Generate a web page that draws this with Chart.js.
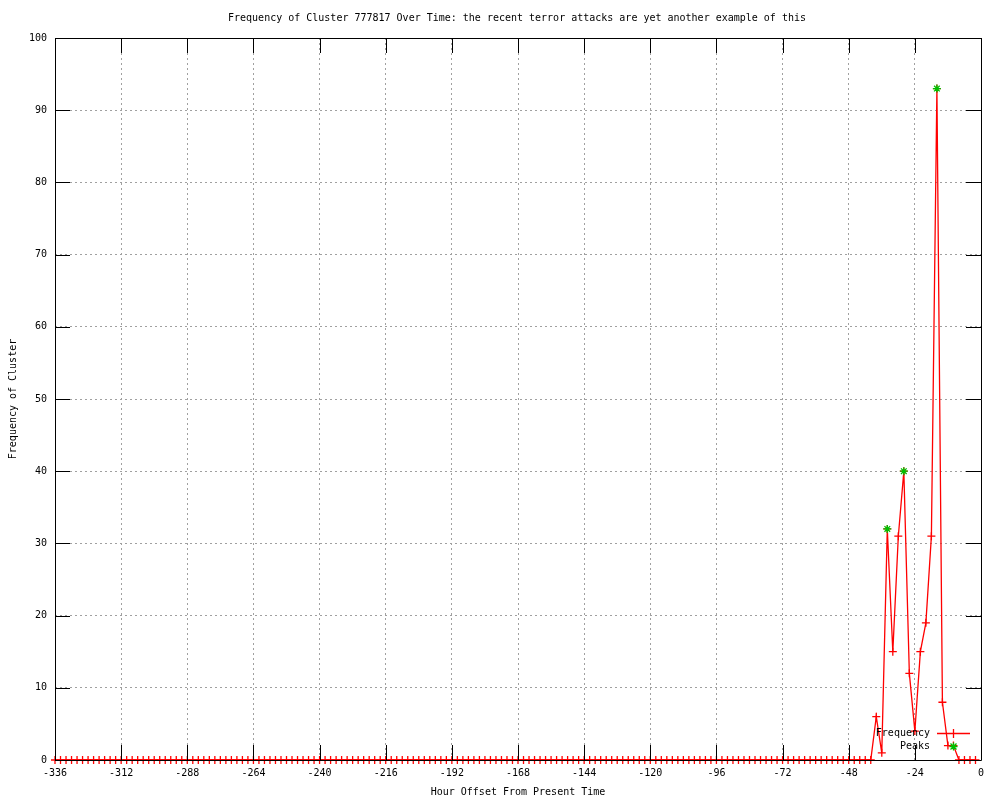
<!DOCTYPE html>
<html>
<head>
<meta charset="utf-8">
<script src="https://cdn.jsdelivr.net/npm/chart.js@4.4.0/dist/chart.umd.min.js"></script>
<style>
  html, body { margin: 0; padding: 0; background: #fff; }
  #wrap { width: 1000px; height: 800px; }
</style>
</head>
<body>
<div id="wrap"><canvas id="chart" width="1000" height="800"></canvas></div>
<script>
// hour offsets (x) and cluster frequency (y)
const hours = [
  -336, -334, -332, -330, -328, -326, -324, -322, -320, -318, -316, -314,
  -312, -310, -308, -306, -304, -302, -300, -298, -296, -294, -292, -290,
  -288, -286, -284, -282, -280, -278, -276, -274, -272, -270, -268, -266,
  -264, -262, -260, -258, -256, -254, -252, -250, -248, -246, -244, -242,
  -240, -238, -236, -234, -232, -230, -228, -226, -224, -222, -220, -218,
  -216, -214, -212, -210, -208, -206, -204, -202, -200, -198, -196, -194,
  -192, -190, -188, -186, -184, -182, -180, -178, -176, -174, -172, -170,
  -168, -166, -164, -162, -160, -158, -156, -154, -152, -150, -148, -146,
  -144, -142, -140, -138, -136, -134, -132, -130, -128, -126, -124, -122,
  -120, -118, -116, -114, -112, -110, -108, -106, -104, -102, -100, -98,
  -96, -94, -92, -90, -88, -86, -84, -82, -80, -78, -76, -74,
  -72, -70, -68, -66, -64, -62, -60, -58, -56, -54, -52, -50,
  -48, -46, -44, -42, -40, -38, -36, -34, -32, -30, -28, -26,
  -24, -22, -20, -18, -16, -14, -12, -10, -8, -6, -4, -2
];
const frequency = [
  0, 0, 0, 0, 0, 0, 0, 0, 0, 0, 0, 0,
  0, 0, 0, 0, 0, 0, 0, 0, 0, 0, 0, 0,
  0, 0, 0, 0, 0, 0, 0, 0, 0, 0, 0, 0,
  0, 0, 0, 0, 0, 0, 0, 0, 0, 0, 0, 0,
  0, 0, 0, 0, 0, 0, 0, 0, 0, 0, 0, 0,
  0, 0, 0, 0, 0, 0, 0, 0, 0, 0, 0, 0,
  0, 0, 0, 0, 0, 0, 0, 0, 0, 0, 0, 0,
  0, 0, 0, 0, 0, 0, 0, 0, 0, 0, 0, 0,
  0, 0, 0, 0, 0, 0, 0, 0, 0, 0, 0, 0,
  0, 0, 0, 0, 0, 0, 0, 0, 0, 0, 0, 0,
  0, 0, 0, 0, 0, 0, 0, 0, 0, 0, 0, 0,
  0, 0, 0, 0, 0, 0, 0, 0, 0, 0, 0, 0,
  0, 0, 0, 0, 0, 6, 1, 32, 15, 31, 40, 12,
  4, 15, 19, 31, 93, 8, 2, 2, 0, 0, 0, 0
];
const peakHours = [-34, -28, -16];
const peakValues = [32, 40, 93];

const xMin = -336, xMax = 0, xStep = 24;
const yMin = 0, yMax = 100, yStep = 10;

const titleText = 'Frequency of Cluster 777817 Over Time: the recent terror attacks are yet another example of this';
const FONT = '"DejaVu Sans Mono", "Liberation Mono", monospace';
const RED = '#ff0000';
const GREEN = '#00c000';

// frame, inward ticks, title and key drawn like gnuplot
const gnuFrame = {
  id: 'gnuFrame',
  beforeDraw(chart) {
    const ctx = chart.ctx;
    ctx.save();
    ctx.fillStyle = '#fff';
    ctx.fillRect(0, 0, chart.width, chart.height);
    ctx.restore();
  },
  afterDraw(chart) {
    const ctx = chart.ctx;
    const a = chart.chartArea;
    const xs = chart.scales.x, ys = chart.scales.y;
    const len = 15;
    ctx.save();
    ctx.setLineDash([]);
    ctx.globalAlpha = 1;
    ctx.strokeStyle = '#000';
    ctx.lineWidth = 1;
    ctx.beginPath();
    ctx.rect(Math.round(a.left) + 0.5, Math.round(a.top) + 0.5,
      Math.round(a.right - a.left), Math.round(a.bottom - a.top));
    xs.ticks.forEach(t => {
      const px = Math.round(xs.getPixelForValue(t.value)) + 0.5;
      ctx.moveTo(px, a.bottom); ctx.lineTo(px, a.bottom - len);
      ctx.moveTo(px, a.top); ctx.lineTo(px, a.top + len);
    });
    ys.ticks.forEach(t => {
      const py = Math.round(ys.getPixelForValue(t.value)) + 0.5;
      ctx.moveTo(a.left, py); ctx.lineTo(a.left + len, py);
      ctx.moveTo(a.right, py); ctx.lineTo(a.right - len, py);
    });
    ctx.stroke();

    // title
    ctx.fillStyle = '#000';
    ctx.font = '10px ' + FONT;
    ctx.textAlign = 'center';
    ctx.textBaseline = 'middle';
    ctx.fillText(titleText, 517, 18);

    // key
    ctx.textAlign = 'right';
    ctx.fillText('Frequency', 930, 733);
    ctx.fillText('Peaks', 930, 746);
    ctx.lineWidth = 1.3;
    ctx.strokeStyle = RED;
    ctx.beginPath();
    ctx.moveTo(937, 733.5); ctx.lineTo(970, 733.5);
    ctx.moveTo(953.5, 729); ctx.lineTo(953.5, 738);
    ctx.stroke();
    ctx.strokeStyle = GREEN;
    ctx.beginPath();
    ctx.moveTo(949.5, 746.5); ctx.lineTo(957.5, 746.5);
    ctx.moveTo(953.5, 742.5); ctx.lineTo(953.5, 750.5);
    ctx.moveTo(950.5, 743.5); ctx.lineTo(956.5, 749.5);
    ctx.moveTo(956.5, 743.5); ctx.lineTo(950.5, 749.5);
    ctx.stroke();
    ctx.restore();
  }
};

new Chart(document.getElementById('chart'), {
  type: 'line',
  data: {
    datasets: [
      {
        label: 'Frequency',
        data: hours.map((h, i) => ({ x: h, y: frequency[i] })),
        borderColor: RED,
        backgroundColor: RED,
        borderWidth: 1.3,
        pointStyle: 'cross',
        pointRadius: 4,
        pointBorderWidth: 1.3,
        tension: 0,
        clip: 6,
        order: 2
      },
      {
        label: 'Peaks',
        data: peakHours.map((h, i) => ({ x: h, y: peakValues[i] })),
        showLine: false,
        borderColor: GREEN,
        backgroundColor: GREEN,
        pointStyle: 'star',
        pointRadius: 4,
        pointBorderWidth: 1.3,
        clip: 6,
        order: 1
      }
    ]
  },
  options: {
    responsive: false,
    animation: false,
    events: [],
    layout: { padding: { left: 0, top: 38, right: 19, bottom: 0 } },
    plugins: {
      legend: { display: false },
      tooltip: { enabled: false },
      title: { display: false }
    },
    scales: {
      x: {
        type: 'linear',
        min: xMin, max: xMax,
        afterFit(scale) { scale.height = 40; },
        afterBuildTicks(scale) {
          const t = [];
          for (let v = xMin; v <= xMax; v += xStep) t.push({ value: v });
          scale.ticks = t;
        },
        ticks: {
          font: { family: FONT, size: 10 },
          color: '#000',
          padding: 7,
          maxRotation: 0,
          autoSkip: false,
          callback: v => String(v)
        },
        grid: { color: '#a0a0a0', drawTicks: false, lineWidth: 1 },
        border: { display: false, dash: [2, 3] },
        title: {
          display: true,
          text: 'Hour Offset From Present Time',
          font: { family: FONT, size: 10 },
          color: '#000',
          padding: { top: 0, bottom: 2 }
        }
      },
      y: {
        min: yMin, max: yMax,
        afterFit(scale) { scale.width = 55; },
        ticks: {
          stepSize: yStep,
          font: { family: FONT, size: 10 },
          color: '#000',
          padding: 8
        },
        grid: { color: '#a0a0a0', drawTicks: false, lineWidth: 1 },
        border: { display: false, dash: [2, 3] },
        title: {
          display: true,
          text: 'Frequency of Cluster',
          font: { family: FONT, size: 10 },
          color: '#000',
          padding: { top: 7, bottom: 0 }
        }
      }
    }
  },
  plugins: [gnuFrame]
});
</script>
</body>
</html>
